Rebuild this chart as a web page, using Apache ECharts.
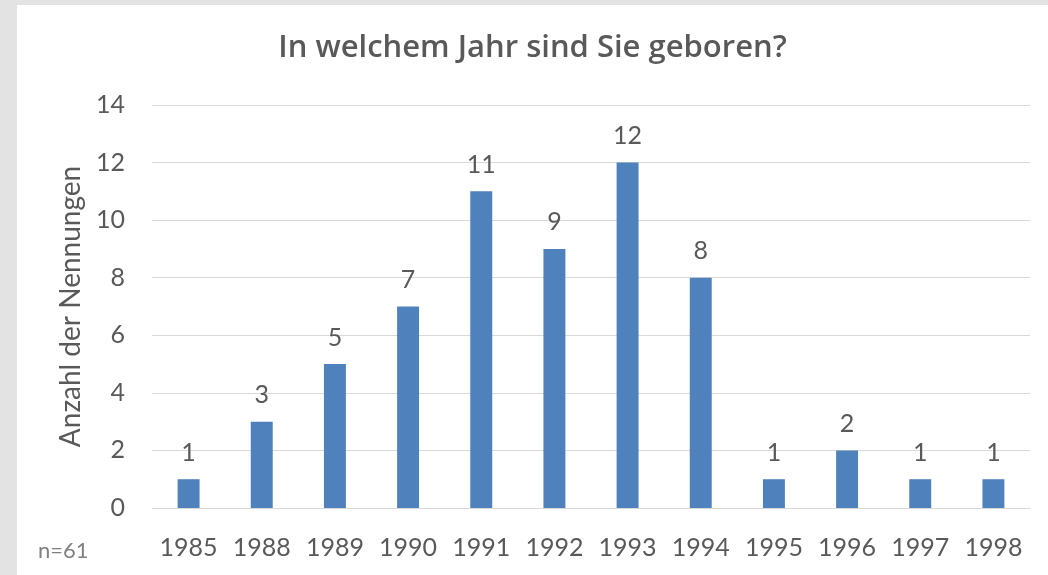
<!DOCTYPE html>
<html lang="de">
<head>
    <meta charset="UTF-8">
    <title>In welchem Jahr sind Sie geboren?</title>
    <script src="https://cdn.jsdelivr.net/npm/echarts/dist/echarts.min.js"></script>
    <style>
        html, body {
            margin: 0;
            padding: 0;
            width: 1048px;
            height: 575px;
            overflow: hidden;
            background-color: #e3e3e3; /* frame around the chart */
        }
        #chart {
            position: absolute;
            left: 17px;
            top: 5px;
            width: 1031px;
            height: 570px;
            background-color: #fff;
        }
    </style>
</head>
<body>
<div id="chart"></div>
<script>
    // Birth years and number of answers
    var years = ['1985', '1988', '1989', '1990', '1991', '1992', '1993', '1994', '1995', '1996', '1997', '1998'];
    var counts = [1, 3, 5, 7, 11, 9, 12, 8, 1, 2, 1, 1];
    var sampleNote = 'n=61';

    var textColor = '#595959';
    var fontName = 'Lato, "Open Sans", sans-serif';

    var chart = echarts.init(document.getElementById('chart'));
    chart.setOption({
        backgroundColor: '#fff',
        animation: false,
        title: {
            text: 'In welchem Jahr sind Sie geboren?',
            left: 'center',
            top: 23,
            textStyle: { color: textColor, fontSize: 31, fontWeight: 600, fontFamily: '"Open Sans", sans-serif' }
        },
        grid: { left: 135, right: 18, top: 100, bottom: 67 },
        xAxis: {
            type: 'category',
            data: years,
            axisLine: { lineStyle: { color: '#d9d9d9', width: 1 } },
            axisTick: { show: false },
            axisLabel: { color: textColor, fontSize: 25, fontFamily: fontName, margin: 27, interval: 0 }
        },
        yAxis: {
            type: 'value',
            min: 0,
            max: 14,
            interval: 2,
            name: 'Anzahl der Nennungen',
            nameLocation: 'middle',
            nameGap: 66,
            nameTextStyle: { color: textColor, fontSize: 28, fontFamily: fontName },
            axisLine: { show: false },
            axisTick: { show: false },
            axisLabel: { color: textColor, fontSize: 25, fontFamily: fontName, margin: 27 },
            splitLine: { lineStyle: { color: '#d9d9d9', width: 1 } }
        },
        series: [{
            type: 'bar',
            data: counts,
            barWidth: '30%',
            itemStyle: { color: '#4f81bd' },
            label: {
                show: true,
                position: 'top',
                distance: 14,
                color: textColor,
                fontSize: 25,
                fontFamily: fontName
            }
        }],
        graphic: [{
            type: 'text',
            left: 21,
            top: 535,
            style: { text: sampleNote, fill: '#808080', fontSize: 22, fontFamily: fontName }
        }]
    });
</script>
</body>
</html>
